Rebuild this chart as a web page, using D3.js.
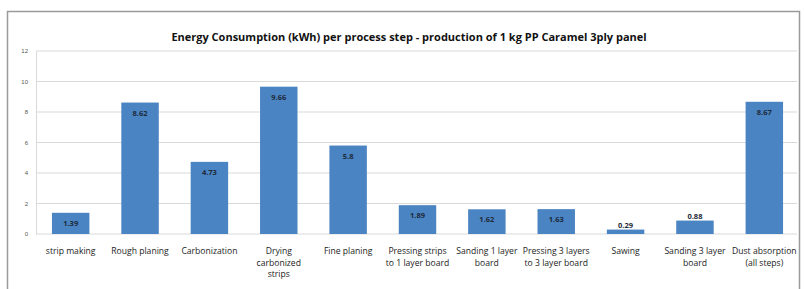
<!DOCTYPE html>
<html>
<head>
<meta charset="utf-8">
<script src="https://cdn.jsdelivr.net/npm/d3@7"></script>
<style>
  body { margin: 0; background: #fff; }
  svg { display: block; font-family: "Open Sans", "Liberation Sans", sans-serif; }
</style>
</head>
<body>
<svg id="chart"></svg>
<script>
const steps = [
  "strip making", "Rough planing", "Carbonization", "Drying carbonized strips",
  "Fine planing", "Pressing strips to 1 layer board", "Sanding 1 layer board",
  "Pressing 3 layers to 3 layer board", "Sawing", "Sanding 3 layer board",
  "Dust absorption (all steps)"
];
// wrapped the way the source chart wraps them
const stepLines = [
  ["strip making"], ["Rough planing"], ["Carbonization"], ["Drying", "carbonized", "strips"],
  ["Fine planing"], ["Pressing strips", "to 1 layer board"], ["Sanding 1 layer", "board"],
  ["Pressing 3 layers", "to 3 layer board"], ["Sawing"], ["Sanding 3 layer", "board"],
  ["Dust absorption", "(all steps)"]
];
const energy = [1.39, 8.62, 4.73, 9.66, 5.8, 1.89, 1.62, 1.63, 0.29, 0.88, 8.67];
const yTicks = [0, 2, 4, 6, 8, 10, 12];

const width = 805, height = 289;
const margin = { top: 51, right: 6, bottom: 55, left: 36 };

const svg = d3.select("#chart").attr("width", width).attr("height", height);

// outer frame
svg.append("rect")
  .attr("x", 7.5).attr("y", 11.5)
  .attr("width", 792).attr("height", 290)
  .attr("fill", "none").attr("stroke", "#9a9a9a").attr("stroke-width", 1.5);

const x = d3.scaleBand()
  .domain(steps)
  .range([margin.left, width - margin.right])
  .paddingInner(0.46).paddingOuter(0.23);

const y = d3.scaleLinear()
  .domain([0, 12])
  .range([height - margin.bottom, margin.top]);

// gridlines
svg.append("g")
  .selectAll("line")
  .data(yTicks)
  .join("line")
  .attr("x1", margin.left).attr("x2", width - margin.right - 2)
  .attr("y1", d => y(d)).attr("y2", d => y(d))
  .attr("stroke", "#d9d9d9").attr("stroke-width", 1);

// y axis
const yAxis = svg.append("g")
  .attr("transform", `translate(${margin.left},0)`)
  .call(d3.axisLeft(y).tickValues(yTicks).tickSize(0).tickPadding(8));
yAxis.select(".domain").attr("stroke", "#d9d9d9");
yAxis.selectAll("text").attr("font-size", 6).attr("fill", "#555");

// bars
svg.append("g")
  .selectAll("rect")
  .data(energy)
  .join("rect")
  .attr("x", (d, i) => x(steps[i]))
  .attr("y", d => y(d))
  .attr("width", x.bandwidth())
  .attr("height", d => y(0) - y(d))
  .attr("fill", "#4b84c2");

// value labels
svg.append("g")
  .selectAll("text")
  .data(energy)
  .join("text")
  .attr("x", (d, i) => x(steps[i]) + x.bandwidth() / 2)
  .attr("y", d => (y(0) - y(d) < 14 ? y(d) - 2 : y(d) + 13))
  .attr("text-anchor", "middle")
  .attr("font-size", 7.5)
  .attr("font-weight", "bold")
  .attr("fill", "#1d2a3a")
  .text(d => d);

// category labels
const cat = svg.append("g")
  .selectAll("text")
  .data(steps)
  .join("text")
  .attr("x", d => x(d) + x.bandwidth() / 2)
  .attr("y", y(0) + 20)
  .attr("text-anchor", "middle")
  .attr("font-size", 8.6)
  .attr("fill", "#222");
cat.each(function (d, i) {
  d3.select(this).selectAll("tspan")
    .data(stepLines[i])
    .join("tspan")
    .attr("x", x(d) + x.bandwidth() / 2)
    .attr("dy", (t, j) => (j === 0 ? 0 : 11.5))
    .text(t => t);
});

// title
svg.append("text")
  .attr("x", 409).attr("y", 41)
  .attr("text-anchor", "middle")
  .attr("font-size", 11)
  .attr("font-weight", "bold")
  .attr("fill", "#111")
  .text("Energy Consumption (kWh) per process step - production of 1 kg PP Caramel 3ply panel");
</script>
</body>
</html>
